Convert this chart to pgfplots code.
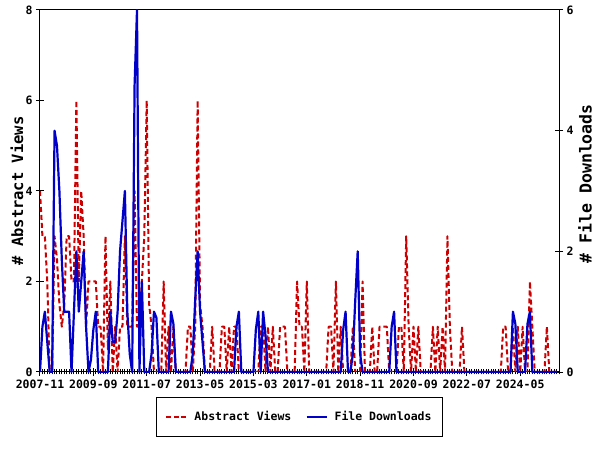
\documentclass[border=0pt]{standalone}
\usepackage{pgfplots}
\usepackage{pgfplotstable}
\pgfplotsset{compat=1.18}
\usepackage{fontspec}
\setmainfont{DejaVu Sans Mono}
\definecolor{avred}{RGB}{204,0,0}
\definecolor{fdblue}{RGB}{0,0,200}
\pgfplotstableread{
m r b
0 4 0
1 3 0.75
2 3 1
3 2 0.5
4 0 0
5 0 0
6 3 4
7 2.5 3.75
8 1.5 3
9 1 1.85
10 1.5 1
11 3 1
12 3 1
13 2 0
14 2 1
15 6 2
16 2 1
17 4 1.5
18 3 2
19 1 0.75
20 2 0
21 2 0.2
22 2 0.7
23 2 1
24 1 0
25 1 0
26 0 0
27 3 0
28 0.5 0
29 2 1
30 0 0.5
31 1 0.5
32 0 1
33 1 2
34 1 2.5
35 3 3
36 1 1
37 1 0.3
38 1 0
39 4 4.75
40 1 6
41 1 0
42 2 1.5
43 3 0
44 6 0
45 1.5 0
46 1 0.3
47 0 1
48 0 0.9
49 0 0
50 0 0
51 2 0
52 0 0
53 1 0
54 0 1
55 1 0.8
56 0 0
57 0 0
58 0 0
59 0 0
60 0 0
61 1 0
62 1 0
63 0 0.3
64 1 1.2
65 6 2
66 1.5 1
67 1 0.5
68 0 0
69 0 0
70 0 0
71 1 0
72 0 0
73 0 0
74 0 0
75 1 0
76 1 0
77 0 0
78 1 0
79 0 0
80 1 0
81 1 0.75
82 0 1
83 0 0
84 0 0
85 0 0
86 0 0
87 0 0
88 0 0
89 0 0.7
90 0 1
91 1 0
92 1 1
93 0 0.6
94 1 0
95 0 0
96 1 0
97 0 0
98 0 0
99 1 0
100 1 0
101 1 0
102 0 0
103 0 0
104 0 0
105 0 0
106 2 0
107 1 0
108 1 0
109 0 0
110 2 0
111 0 0
112 0 0
113 0 0
114 0 0
115 0 0
116 0 0
117 0 0
118 0 0
119 1 0
120 1 0
121 0 0
122 2 0
123 0 0
124 1 0
125 0 0.7
126 0 1
127 0 0
128 0 0
129 1 0.3
130 0 1.2
131 0 2
132 0 0.3
133 2 0
134 0 0
135 0 0
136 0 0
137 1 0
138 0 0
139 0 0
140 1 0
141 1 0
142 1 0
143 1 0
144 0 0
145 0 0.75
146 0 1
147 0 0
148 1 0
149 1 0
150 0 0
151 3 0
152 1 0
153 0 0
154 1 0
155 0 0
156 1 0
157 0 0
158 0 0
159 0 0
160 0 0
161 0 0
162 1 0
163 0 0
164 1 0
165 0 0
166 1 0
167 0 0
168 3 0
169 1 0
170 0 0
171 0 0
172 0 0
173 0 0
174 1 0
175 0 0
176 0 0
177 0 0
178 0 0
179 0 0
180 0 0
181 0 0
182 0 0
183 0 0
184 0 0
185 0 0
186 0 0
187 0 0
188 0 0
189 0 0
190 0 0
191 1 0
192 1 0
193 0 0
194 0 0
195 1 1
196 0 0.8
197 1 0
198 0 0
199 1 0
200 0 0
201 0 0.8
202 2 1
203 1 0
204 0 0
205 0 0
206 0 0
207 0 0
208 0 0
209 1 0
210 0 0
211 0 0
212 0 0
213 0 0
}\datatable
\begin{document}
\begin{tikzpicture}
\pgfplotsset{
  common/.style={
    scale only axis, width=519pt, height=362pt,
    xmin=0, xmax=214,
    /pgf/number format/assume math mode=true,
    tick label style={font=\fontsize{11.5}{12}\selectfont\bfseries},
    label style={font=\fontsize{15.5}{16}\selectfont\bfseries},
    axis line style={line width=1pt, black},
    every tick/.style={line width=1pt, black},
    tick align=center,
    major tick length=8pt, minor tick length=5pt,
  }
}
\begin{axis}[common,
  ymin=0, ymax=8,
  xtick={0,22,...,198},
  xticklabels={2007-11,2009-09,2011-07,2013-05,2015-03,2017-01,2018-11,2020-09,2022-07,2024-05},
  minor xtick={0,1,...,214},
  xtick pos=left, ytick pos=left,
  ytick={0,2,4,6,8},
  ylabel={\# Abstract Views},
  ylabel style={at={(axis description cs:-0.0443,0.5)}, anchor=center},
]
\addplot[avred, line width=2pt, dash pattern=on 5pt off 3pt, line join=round, no markers] table[x=m, y=r] {\datatable};
\end{axis}
\begin{axis}[common,
  ymin=0, ymax=6,
  axis x line=none, axis y line*=right,
  ytick={0,2,4,6},
  ylabel={\# File Downloads},
  ylabel style={at={(axis description cs:1.050,0.52)}, anchor=center, font=\fontsize{16.5}{17}\selectfont\bfseries},
  legend style={at={(0.5,-0.069)}, anchor=north, legend columns=2, draw=black, line width=1pt,
    inner xsep=9pt, inner ysep=12pt,
    font=\fontsize{11.5}{12}\selectfont\bfseries,
    /tikz/every odd column/.append style={column sep=5pt},
    /tikz/every even column/.append style={column sep=12pt}},
  legend image code/.code={\draw[#1] (0pt,0pt) -- (20pt,0pt);},
]
\addlegendimage{avred, line width=2pt, dash pattern=on 5pt off 2.5pt}
\addlegendentry{Abstract Views}
\addplot[fdblue, line width=2.2pt, line join=round, no markers] table[x=m, y=b] {\datatable};
\addlegendentry{File Downloads}
\end{axis}
\pgfresetboundingbox
\path[use as bounding box] (-40pt,-78pt) rectangle (560pt,372pt);
\end{tikzpicture}
\end{document}
